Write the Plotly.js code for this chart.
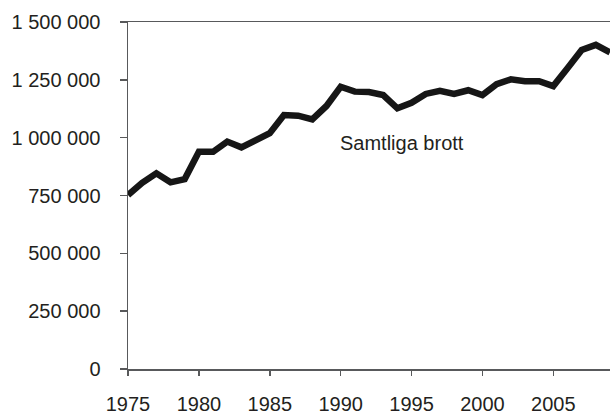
<!DOCTYPE html>
<html>
<head>
<meta charset="utf-8">
<script src="https://cdn.plot.ly/plotly-3.0.1.min.js"></script>
<style>html,body{margin:0;padding:0;background:#fff;}#chart{width:610px;height:416px;}</style>
</head>
<body>
<div id="chart"></div>
<script>
const years = [1975,1976,1977,1978,1979,1980,1981,1982,1983,1984,1985,1986,1987,1988,1989,1990,1991,1992,1993,1994,1995,1996,1997,1998,1999,2000,2001,2002,2003,2004,2005,2006,2007,2008,2009];
const crimes = [752000,805000,846000,807000,821000,939000,939000,983000,958000,985000,1019000,1098000,1095000,1079000,1137000,1220000,1199000,1197000,1184000,1127000,1151000,1189000,1202000,1189000,1205000,1184000,1231000,1252000,1244000,1244000,1223000,1300000,1379000,1401000,1369000];
const yTickVals = [0,250000,500000,750000,1000000,1250000,1500000];
const yTickText = ["0","250 000","500 000","750 000","1 000 000","1 250 000","1 500 000"];
const xTickVals = [1975,1980,1985,1990,1995,2000,2005];
const seriesLabel = "Samtliga brott";

const textColor = "#231f20";
const axisColor = "#58595b";

Plotly.newPlot("chart", [{
  x: years, y: crimes, type: "scatter", mode: "lines",
  line: {color: "#161616", width: 6.5, shape: "linear"},
  hoverinfo: "skip", cliponaxis: true
}], {
  width: 610, height: 416,
  margin: {l: 128, r: 0, t: 22, b: 47, pad: 0},
  paper_bgcolor: "#fff", plot_bgcolor: "#fff",
  showlegend: false,
  font: {family: "Liberation Sans, Arial, sans-serif", size: 20, color: textColor},
  xaxis: {
    range: [1975, 2009], tickvals: xTickVals, ticktext: xTickVals.map(String),
    showgrid: false, zeroline: false, showline: true, linecolor: axisColor, linewidth: 1.5,
    mirror: true, ticks: "outside", ticklen: 5, tickcolor: axisColor, tickwidth: 1.5,
    tickfont: {size: 20, color: textColor}, ticklabelstandoff: 11
  },
  yaxis: {
    range: [0, 1500000], tickvals: yTickVals, ticktext: yTickText,
    showgrid: false, zeroline: false, showline: true, linecolor: axisColor, linewidth: 1.5,
    ticks: "outside", ticklen: 7, tickcolor: axisColor, tickwidth: 1.5,
    tickfont: {size: 20, color: textColor}, ticklabelstandoff: 15
  },
  annotations: [{
    x: 1994.3, y: 977000, xref: "x", yref: "y", text: seriesLabel,
    showarrow: false, font: {size: 20, color: textColor}, xanchor: "center", yanchor: "middle"
  }]
}, {displayModeBar: false, staticPlot: true});
</script>
</body>
</html>
